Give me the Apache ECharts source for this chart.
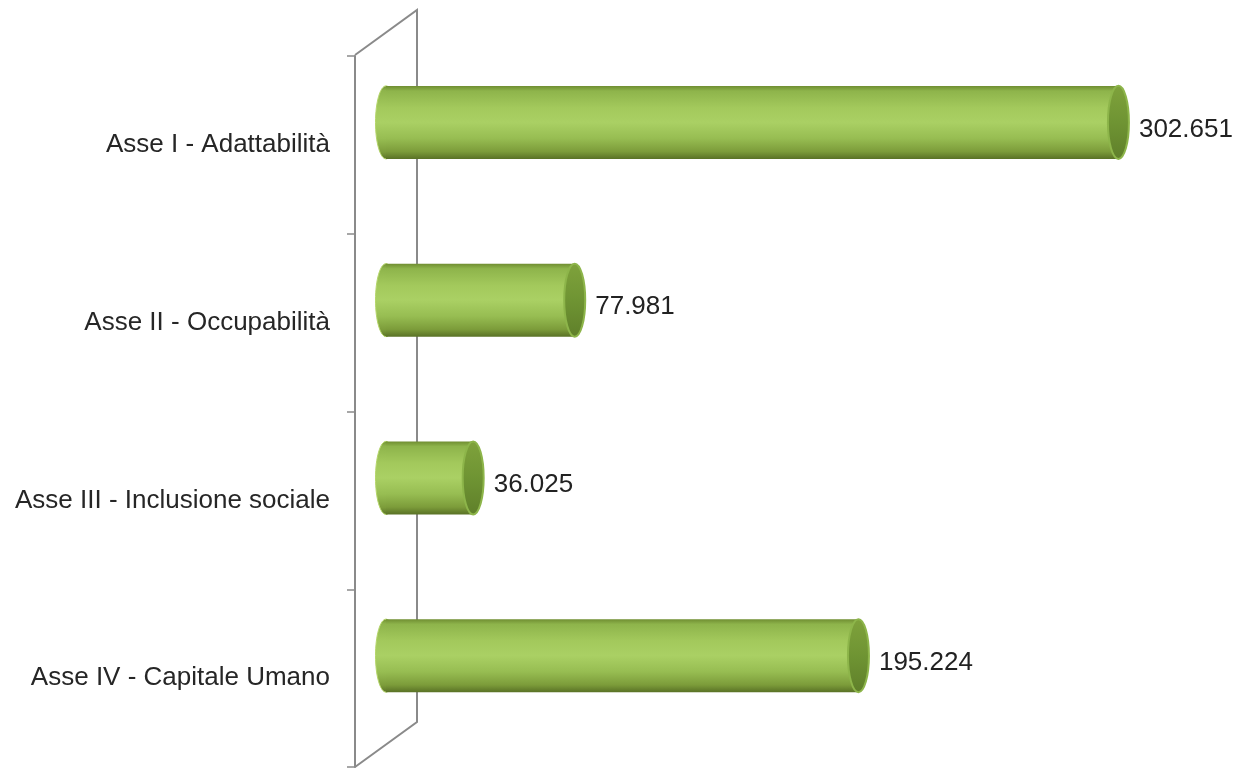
<!DOCTYPE html>
<html><head><meta charset="utf-8">
<script src="https://cdn.jsdelivr.net/npm/echarts@6/dist/echarts.min.js"></script>
<style>html,body{margin:0;padding:0;background:#fff}#c{width:1241px;height:768px}</style>
</head><body><div id="c"></div>
<script>
const categories = ['Asse I - Adattabilità', 'Asse II - Occupabilità', 'Asse III - Inclusione sociale', 'Asse IV - Capitale Umano'];
const values = [302.651, 77.981, 36.025, 195.224];
const valueLabels = ['302.651', '77.981', '36.025', '195.224'];

const FONT = "'Liberation Sans',Arial,sans-serif";
const GL = 355, GT = 56, GB = 1, GR = 39;
const DX = 62, DY = -45; // wall depth
const chart = echarts.init(document.getElementById('c'), null, {renderer: 'canvas'});

function renderItem(params, api) {
  const idx = api.value(0);
  const v = api.value(1);
  const p0 = api.coord([0, idx]);
  const p1 = api.coord([v, idx]);
  const ox = DX / 2, oy = DY / 2;
  const cy = p0[1] + oy;
  const hh = 36.5, rx = 10.5;
  const x0 = p0[0] + ox, x1 = p1[0] + ox;
  const bodyGrad = new echarts.graphic.LinearGradient(0, 0, 0, 1, [
    {offset: 0, color: '#6f8d31'},
    {offset: 0.07, color: '#8eb44b'},
    {offset: 0.3, color: '#a3c95c'},
    {offset: 0.5, color: '#aad064'},
    {offset: 0.72, color: '#97bd52'},
    {offset: 0.9, color: '#7c9c3a'},
    {offset: 1, color: '#5a7226'}
  ]);
  const capGrad = new echarts.graphic.LinearGradient(0, 0, 0, 1, [
    {offset: 0, color: '#7fa23c'},
    {offset: 0.5, color: '#6f9433'},
    {offset: 1, color: '#5f7f2a'}
  ]);
  return {
    type: 'group',
    children: [
      {type: 'ellipse', shape: {cx: x0, cy: cy, rx: rx, ry: hh}, style: {fill: bodyGrad, stroke: '#b5d66a', lineWidth: 1}},
      {type: 'rect', shape: {x: x0, y: cy - hh, width: Math.max(0, x1 - x0), height: hh * 2}, style: {fill: bodyGrad}},
      {type: 'ellipse', shape: {cx: x1, cy: cy, rx: rx, ry: hh}, style: {fill: capGrad, stroke: '#8db54a', lineWidth: 2}},
      {type: 'text', x: x1 + rx + 10, y: cy + 7, style: {text: valueLabels[idx], font: '26px ' + FONT, fill: '#222', textAlign: 'left', textVerticalAlign: 'middle'}}
    ]
  };
}

const W = 1241, H = 768;
const fx = GL, ft = GT - 1, fb = H - GB;
chart.setOption({
  animation: false,
  backgroundColor: '#ffffff',
  grid: {left: GL, top: GT, bottom: GB, right: GR, containLabel: false, outerBoundsMode: 'none'},
  xAxis: {type: 'value', min: 0, max: 350, show: false, splitLine: {show: false}},
  yAxis: {
    type: 'category', inverse: true, data: categories,
    axisLine: {show: true, lineStyle: {color: '#8a8a8a', width: 2}},
    axisTick: {show: true, length: 8, lineStyle: {color: '#8a8a8a', width: 1.5}},
    axisLabel: {margin: 25, color: '#262626', fontSize: 26, fontFamily: FONT}
  },
  graphic: [{
    type: 'polyline', silent: true, z: 0,
    shape: {points: [[fx, ft], [fx + DX, ft + DY], [fx + DX, fb + DY], [fx, fb]]},
    style: {stroke: '#8a8a8a', lineWidth: 2, fill: null}
  }],
  series: [{
    type: 'custom', renderItem: renderItem, z: 5,
    encode: {x: 1, y: 0},
    data: values.map((v, i) => [i, v])
  }]
});
</script></body></html>
